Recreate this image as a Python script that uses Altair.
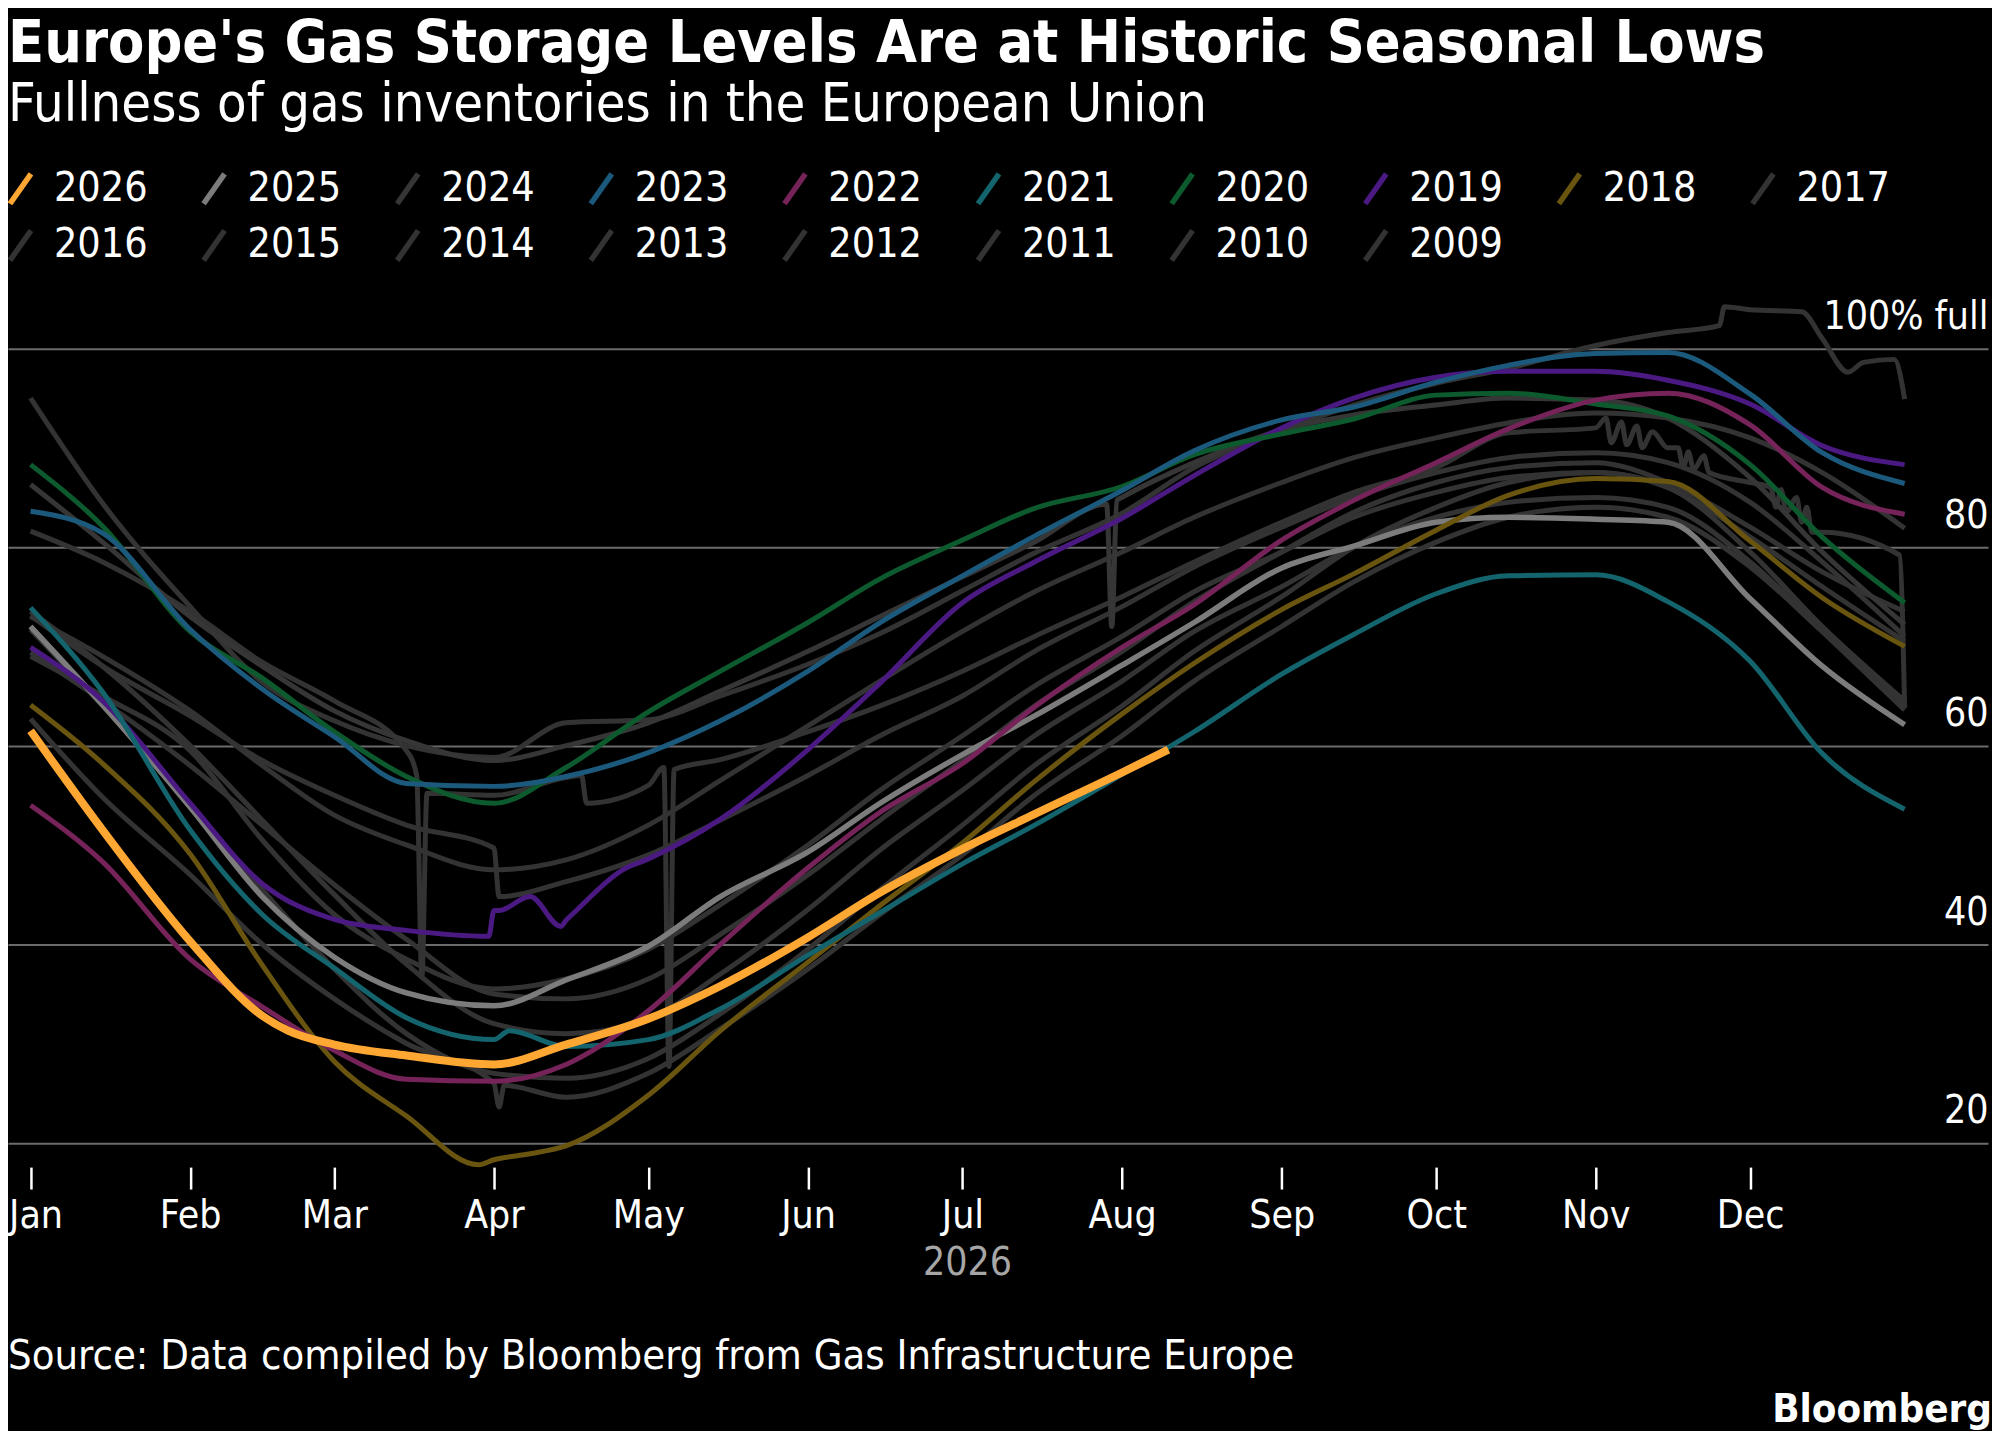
import altair as alt
import pandas as pd

TITLE = "Europe's Gas Storage Levels Are at Historic Seasonal Lows"
SUBTITLE = "Fullness of gas inventories in the European Union"
SOURCE = "Source: Data compiled by Bloomberg from Gas Infrastructure Europe"
BRAND = "Bloomberg"
FONT = "DejaVu Sans Condensed, DejaVu Sans, sans-serif"

# sample dates shared by every year (plotted on a 2026 calendar)
DATES = ["2026-01-01", "2026-01-15", "2026-02-01", "2026-02-15", "2026-03-01",
         "2026-03-15", "2026-04-01", "2026-04-15", "2026-05-01", "2026-05-15",
         "2026-06-01", "2026-06-15", "2026-07-01", "2026-07-15", "2026-08-01",
         "2026-08-15", "2026-09-01", "2026-09-15", "2026-10-01", "2026-10-15",
         "2026-11-01", "2026-11-15", "2026-12-01", "2026-12-15", "2026-12-31"]

# % full
Y2026 = [61.5, 51.5, 40.3, 32.8, 29.9, 28.8, 27.9, 29.9, 32.5, 35.8, 40.7, 45.2, 49.6,
         53.1, 57.3, None, None, None, None, None, None, None, None, None, None]
Y2025 = [72.0, 64.1, 53.8, 44.8, 38.7, 35.1, 33.8, 36.4, 39.8, 44.8, 49.3, 54.2, 59.1,
         63.0, 68.1, 72.4, 77.9, 80.1, 82.5, 83.0, 82.8, 82.5, 74.8, 68.0, 62.1]
Y2024 = [86.3, 80.5, 73.0, 68.0, 63.5, 60.5, 58.5, 60.0, 62.3, 65.5, 69.5, 73.0, 77.0,
         80.5, 85.0, 88.5, 91.8, 93.3, 94.3, 95.0, 94.8, 93.0, 87.0, 79.5, 72.2]
Y2023 = [83.6, 81.4, 71.7, 65.7, 60.9, 56.2, 55.9, 56.9, 59.3, 62.5, 67.5, 72.4, 77.1,
         81.1, 85.7, 89.7, 92.8, 94.1, 96.6, 98.3, 99.5, 99.6, 95.4, 89.5, 86.4]
Y2022 = [54.0, 48.3, 38.5, 33.7, 29.3, 26.4, 26.2, 27.9, 33.3, 40.0, 47.7, 53.3, 58.2,
         63.9, 69.9, 74.2, 80.7, 84.7, 88.5, 91.9, 94.8, 95.5, 92.3, 86.0, 83.3]
Y2021 = [73.9, 65.4, 51.5, 43.0, 37.6, 32.6, 30.4, 29.7, 30.4, 33.5, 38.9, 43.2, 48.1,
         52.0, 57.1, 61.4, 67.2, 71.2, 75.3, 77.1, 77.2, 74.5, 68.5, 59.2, 53.6]
Y2020 = [88.3, 82.1, 71.5, 66.8, 61.4, 56.9, 54.2, 57.8, 63.4, 67.5, 72.4, 76.8, 80.7,
         83.9, 86.1, 89.3, 91.4, 92.9, 95.3, 95.5, 94.4, 93.2, 88.3, 81.0, 74.4]
Y2019 = [69.9, 64.5, 54.2, 46.1, 42.5, 41.4, 43.4, 42.4, 48.6, 52.6, 59.6, 66.3, 74.4,
         78.5, 82.9, 87.2, 92.0, 95.0, 97.1, 97.7, 97.7, 96.8, 94.4, 90.2, 88.3]
Y2018 = [64.1, 58.2, 49.1, 37.9, 28.2, 22.7, 18.3, 19.7, 24.8, 31.3, 38.2, 43.9, 50.2,
         56.4, 63.2, 68.3, 73.7, 77.3, 81.7, 85.2, 86.9, 86.6, 80.6, 74.9, 70.0]
Y2017 = [71.7, 64.0, 54.0, 45.5, 37.5, 31.0, 27.0, 26.5, 28.5, 33.0, 39.5, 45.5, 52.0,
         58.0, 64.0, 69.5, 75.0, 80.0, 84.0, 86.5, 87.5, 86.0, 79.5, 72.0, 64.5]
Y2016 = [69.4, 64.5, 58.0, 52.0, 46.0, 40.5, 35.0, 34.5, 36.5, 41.0, 47.0, 52.5, 58.5,
         64.0, 69.5, 74.5, 79.5, 83.5, 86.5, 88.0, 88.5, 86.5, 82.0, 77.5, 73.5]
Y2015 = [73.5, 68.0, 60.0, 52.5, 45.0, 38.0, 32.0, 31.0, 32.5, 37.0, 43.5, 49.5, 55.5,
         61.0, 66.5, 71.5, 76.0, 80.0, 83.0, 84.5, 85.0, 84.0, 78.5, 71.5, 63.6]
Y2014 = [73.0, 69.0, 63.5, 58.0, 53.0, 50.0, 47.5, 48.5, 52.0, 56.5, 62.0, 66.5, 71.5,
         75.5, 79.5, 83.0, 86.5, 89.0, 91.0, 92.5, 93.5, 93.0, 91.0, 87.5, 81.9]
Y2013 = [62.7, 54.8, 47.0, 40.0, 34.5, 30.0, 26.0, 24.6, 27.0, 31.5, 37.5, 43.0, 49.0,
         55.0, 61.0, 66.5, 72.0, 76.5, 80.5, 83.0, 84.0, 83.0, 78.0, 71.5, 64.0]
Y2012 = [69.0, 65.0, 59.5, 50.5, 43.0, 38.5, 35.5, 36.5, 39.5, 44.0, 50.0, 55.5, 61.0,
         66.0, 71.0, 75.5, 79.5, 83.0, 85.5, 87.0, 87.5, 86.0, 81.0, 76.0, 70.5]
Y2011 = [81.6, 78.5, 73.5, 68.4, 64.5, 59.5, 55.0, 56.8, 56.0, 58.6, 61.4, 64.0, 67.5,
         71.0, 75.0, 78.5, 82.5, 85.5, 88.0, 91.5, 92.0, 90.0, 86.5, 81.5, 63.8]
Y2010 = [95.0, 84.4, 74.0, 66.4, 62.5, 60.0, 58.8, 62.3, 62.6, 65.0, 68.2, 71.3, 75.6,
         79.4, 83.4, 88.0, 91.8, 94.3, 96.5, 98.0, 100.3, 101.6, 103.9, 101.0, 94.9]
Y2009 = [73.1, 68.0, 63.0, 58.5, 55.0, 52.0, 49.7, 46.3, 49.0, 52.5, 57.0, 61.0, 65.0,
         69.5, 74.0, 78.0, 82.0, 85.0, 87.5, 89.0, 89.5, 88.5, 84.5, 78.5, 71.0]

# extra daily readings: kinks, data glitches and the 2026 end point
EXTRA = [
    ("2026", "2026-02-20", 31.3), ("2026", "2026-08-10", 59.6),
    ("2021", "2026-04-04", 31.3),
    ("2019", "2026-03-31", 40.8), ("2019", "2026-04-02", 43.4), ("2019", "2026-04-08", 44.8),
    ("2019", "2026-04-14", 41.8), ("2019", "2026-04-17", 43.4), ("2019", "2026-04-26", 47.5),
    ("2018", "2026-03-29", 17.8), ("2018", "2026-04-08", 18.9),
    ("2011", "2026-03-17", 57.0), ("2011", "2026-03-18", 36.7), ("2011", "2026-03-19", 55.2),
    ("2011", "2026-04-18", 57.0), ("2011", "2026-04-19", 54.2),
    ("2011", "2026-05-04", 57.8), ("2011", "2026-05-05", 27.7), ("2011", "2026-05-06", 57.6),
    ("2011", "2026-11-03", 93.0), ("2011", "2026-11-04", 90.5), ("2011", "2026-11-06", 92.6),
    ("2011", "2026-11-07", 90.3), ("2011", "2026-11-09", 92.2), ("2011", "2026-11-10", 90.0),
    ("2011", "2026-11-12", 91.6), ("2011", "2026-11-17", 90.0), ("2011", "2026-11-18", 88.0),
    ("2011", "2026-11-19", 89.6), ("2011", "2026-11-20", 87.8), ("2011", "2026-11-22", 89.2),
    ("2011", "2026-11-23", 87.5), ("2011", "2026-12-05", 86.0), ("2011", "2026-12-06", 84.0),
    ("2011", "2026-12-07", 85.8), ("2011", "2026-12-08", 83.5), ("2011", "2026-12-10", 85.0),
    ("2011", "2026-12-11", 82.5), ("2011", "2026-12-12", 84.0), ("2011", "2026-12-13", 81.5),
    ("2011", "2026-12-30", 79.2),
    ("2009", "2026-04-02", 44.8),
    ("2013", "2026-04-02", 23.6), ("2013", "2026-04-03", 25.8),
    ("2024", "2026-07-29", 84.3), ("2024", "2026-07-30", 72.0), ("2024", "2026-07-31", 84.7),
    ("2010", "2026-11-25", 102.3), ("2010", "2026-11-26", 104.2), ("2010", "2026-12-11", 103.7),
    ("2010", "2026-12-20", 97.6), ("2010", "2026-12-23", 98.6), ("2010", "2026-12-29", 98.9),
]

YEARS = ["2026", "2025", "2024", "2023", "2022", "2021", "2020", "2019", "2018",
         "2017", "2016", "2015", "2014", "2013", "2012", "2011", "2010", "2009"]
COLORS = ["#ffa733", "#7c7c7c", "#363636", "#1c5a7d", "#76235a", "#14646e", "#0c5a2d",
          "#4b1982", "#69550f", "#333333", "#333333", "#333333", "#333333", "#333333",
          "#333333", "#333333", "#333333", "#333333"]
GREY_YEARS = ["2024", "2017", "2016", "2015", "2014", "2013", "2012", "2011", "2010", "2009"]
COLOR_YEARS = ["2023", "2022", "2021", "2020", "2019", "2018"]
Y_TICKS = [20, 40, 60, 80, 100]

series = {"2026": Y2026, "2025": Y2025, "2024": Y2024, "2023": Y2023, "2022": Y2022,
          "2021": Y2021, "2020": Y2020, "2019": Y2019, "2018": Y2018, "2017": Y2017,
          "2016": Y2016, "2015": Y2015, "2014": Y2014, "2013": Y2013, "2012": Y2012,
          "2011": Y2011, "2010": Y2010, "2009": Y2009}

rows = []
for yr, vals in series.items():
    for d, v in zip(DATES, vals):
        if v is not None:
            rows.append({"year": yr, "date": d, "pct": v})
for yr, d, v in EXTRA:
    rows.append({"year": yr, "date": d, "pct": v})
df = pd.DataFrame(rows).sort_values(["year", "date"])

# January label is pulled flush left so it is not cut at the page edge
jan_test = "utcmonth(datum.value) == 0"

x_enc = alt.X(
    "date:T",
    title="2026",
    scale=alt.Scale(type="utc", domain=[
        alt.DateTime(year=2025, month=12, date=27, hours=14, minutes=51, utc=True),
        alt.DateTime(year=2027, month=1, date=16, hours=4, minutes=34, utc=True)]),
    axis=alt.Axis(values=[alt.DateTime(year=2026, month=m, date=1, utc=True) for m in range(1, 13)],
                  format="%b", domain=False, grid=False, tickColor="white", tickSize=22,
                  tickWidth=2.5, labelColor="white", labelFontSize=39, labelPadding=8,
                  labelBaseline="top",
                  labelAlign={"condition": {"test": jan_test, "value": "left"}, "value": "center"},
                  labelOffset={"condition": {"test": jan_test, "value": -22}, "value": 0},
                  titleColor="#a6a6a6", titleFontSize=39, titleFontWeight="normal",
                  titleX=961, titleY=96, titleAlign="center", titleBaseline="middle"),
)
y_enc = alt.Y(
    "pct:Q",
    title=None,
    scale=alt.Scale(domain=[17.56, 106.0], nice=False, zero=False),
    axis=alt.Axis(orient="right", values=Y_TICKS, grid=True, gridColor="#6b6b6b",
                  gridWidth=2, domain=False, ticks=False, labelAlign="right",
                  labelBaseline="alphabetic", labelPadding=0, labelOffset=-20,
                  labelColor="white", labelFontSize=39,
                  labelExpr="datum.value == 100 ? '100% full' : datum.label"),
)
color_enc = alt.Color(
    "year:N",
    scale=alt.Scale(domain=YEARS, range=COLORS),
    legend=alt.Legend(title=None, orient="none", legendX=-8, legendY=-121, direction="horizontal",
                      columns=10, symbolType="M-0.7,1L0.7,-1", symbolSize=900,
                      symbolStrokeWidth=5.5, labelColor="white", labelFontSize=41,
                      labelOffset=13, columnPadding=45, rowPadding=4, labelLimit=200),
)

base = alt.Chart(df).encode(x=x_enc, y=y_enc, color=color_enc)

grey = base.transform_filter(
    alt.FieldOneOfPredicate(field="year", oneOf=GREY_YEARS)
).mark_line(strokeWidth=5, interpolate="monotone")
last_year = base.transform_filter(alt.datum.year == "2025").mark_line(strokeWidth=5.5, interpolate="monotone")
colored = base.transform_filter(
    alt.FieldOneOfPredicate(field="year", oneOf=COLOR_YEARS)
).mark_line(strokeWidth=5, interpolate="monotone")
current = base.transform_filter(alt.datum.year == "2026").mark_line(strokeWidth=8, interpolate="monotone")

source = alt.Chart(pd.DataFrame({"t": [SOURCE]})).mark_text(
    align="left", baseline="middle", color="white", fontSize=41.5, font=FONT
).encode(text="t:N", x=alt.value(0), y=alt.value(1070))
brand = alt.Chart(pd.DataFrame({"t": [BRAND]})).mark_text(
    align="right", baseline="middle", color="white", fontSize=40, fontWeight="bold", font=FONT
).encode(text="t:N", x=alt.value(1988), y=alt.value(1123))

chart = alt.layer(grey, last_year, colored, current, source, brand).properties(
    width=1984,
    height=880,
    padding={"left": 0, "top": 280, "right": 4, "bottom": 263},
    autosize=alt.AutoSizeParams(type="none"),
    title=alt.TitleParams(text=TITLE, subtitle=SUBTITLE, anchor="start", frame="group",
                          font=FONT, fontSize=59, fontWeight="bold", color="white",
                          subtitleFont=FONT, subtitleFontSize=54, subtitleColor="white",
                          subtitlePadding=4, offset=36),
).configure(
    background="black"
).configure_view(
    strokeWidth=0
).configure_axis(
    labelFont=FONT, titleFont=FONT
).configure_legend(
    labelFont=FONT
)

chart.save("out.html", embed_options={"renderer": "svg", "actions": False})
